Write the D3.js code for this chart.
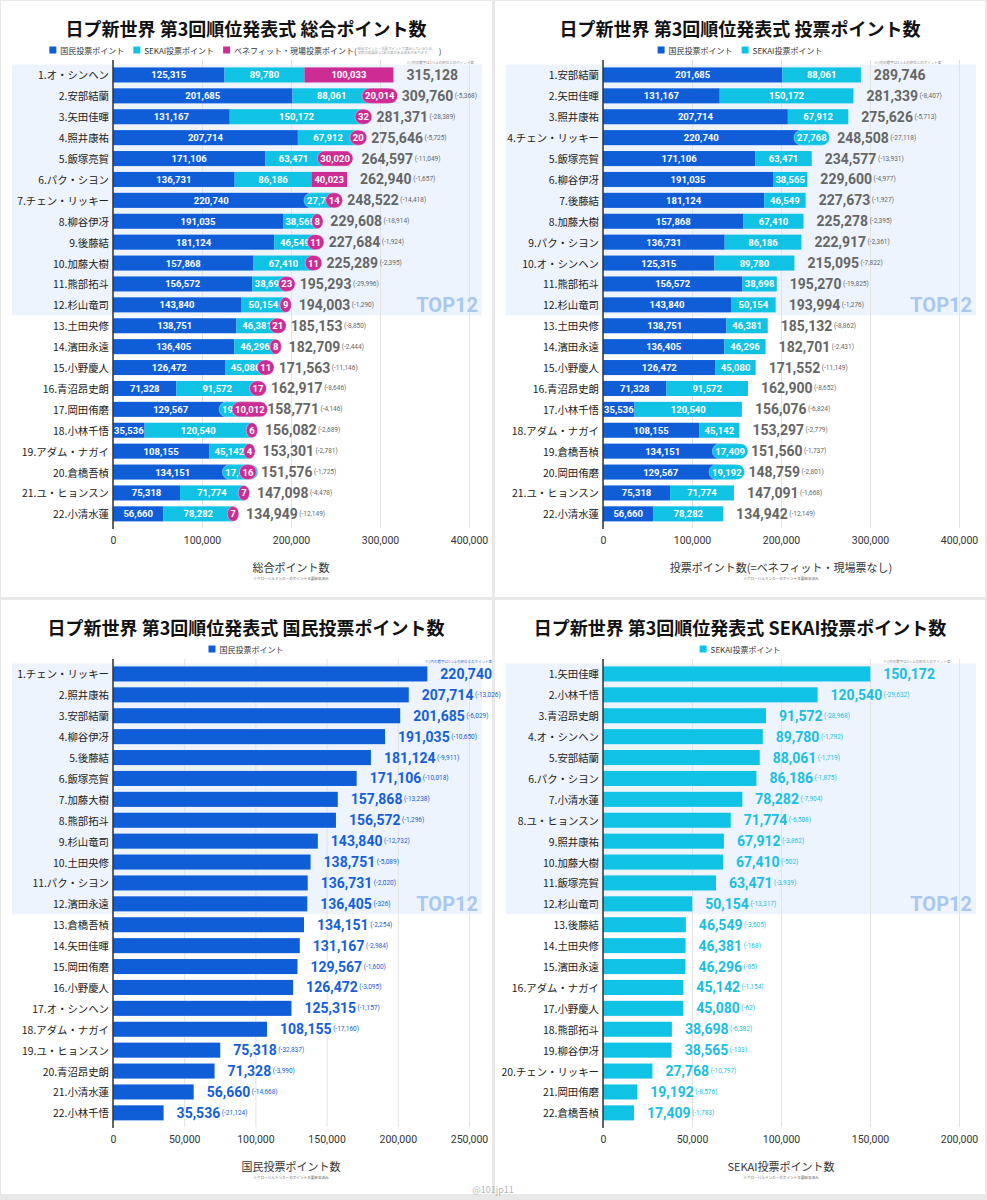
<!DOCTYPE html>
<meta charset="utf-8">
<style>

body {
  margin: 0;
  background: #e8e8e8;
}

svg {
  display: block;
}

text {
  font-family: "Noto Sans CJK JP", sans-serif;
}

.num text, text.num {
  font-family: Roboto, "Noto Sans CJK JP", sans-serif;
}

</style>
<svg></svg>
<script src="https://cdn.jsdelivr.net/npm/d3@7"></script>
<script>

// members in order of the overall ranking
var members = ["オ・シンヘン", "安部結蘭", "矢田佳暉", "照井康祐", "飯塚亮賀", "パク・シヨン",
  "チェン・リッキー", "柳谷伊冴", "後藤結", "加藤大樹", "熊部拓斗", "杉山竜司", "土田央修",
  "濱田永遠", "小野慶人", "青沼昂史朗", "岡田侑磨", "小林千悟", "アダム・ナガイ", "倉橋吾楨",
  "ユ・ヒョンスン", "小清水蓮"];

var nationalPoints = [125315, 201685, 131167, 207714, 171106, 136731, 220740, 191035, 181124, 157868,
  156572, 143840, 138751, 136405, 126472, 71328, 129567, 35536, 108155, 134151, 75318, 56660];

var sekaiPoints = [89780, 88061, 150172, 67912, 63471, 86186, 27768, 38565, 46549, 67410,
  38698, 50154, 46381, 46296, 45080, 91572, 19192, 120540, 45142, 17409, 71774, 78282];

var benefitPoints = [100033, 20014, 32, 20, 30020, 40023, 14, 8, 11, 11,
  23, 9, 21, 8, 11, 17, 10012, 6, 4, 16, 7, 7];

// totals as printed on the chart
var totalPoints = [315128, 309760, 281371, 275646, 264597, 262940, 248522, 229608, 227684, 225289,
  195293, 194003, 185153, 182709, 171563, 162917, 158771, 156082, 153301, 151576, 147098, 134949];

var votePoints = [215095, 289746, 281339, 275626, 234577, 222917, 248508, 229600, 227673, 225278,
  195270, 193994, 185132, 182701, 171552, 162900, 148759, 156076, 153297, 151560, 147091, 134942];

var width = 987,
    height = 1200;

var colors = {national: "#0f5ed8", sekai: "#10c3e4", benefit: "#cd2c95"};
var legendNames = {national: "国民投票ポイント", sekai: "SEKAI投票ポイント", benefit: "ベネフィット・現場投票ポイント("};

var fmt = d3.format(",");

var rows = members.map(function(name, i) {
  return {
    name: name,
    national: nationalPoints[i],
    sekai: sekaiPoints[i],
    benefit: benefitPoints[i],
    total: totalPoints[i],
    vote: votePoints[i]
  };
});

var panels = [
  {title: "日プ新世界 第3回順位発表式 総合ポイント数", keys: ["national", "sekai", "benefit"], value: "total",
   max: 400000, step: 100000, left: 0, top: 0, zero: 113, axisTitle: "総合ポイント数", labelColor: "#666", segLabels: true},
  {title: "日プ新世界 第3回順位発表式 投票ポイント数", keys: ["national", "sekai"], value: "vote",
   max: 400000, step: 100000, left: 494, top: 0, zero: 603, axisTitle: "投票ポイント数(=ベネフィット・現場票なし)", labelColor: "#666", segLabels: true},
  {title: "日プ新世界 第3回順位発表式 国民投票ポイント数", keys: ["national"], value: "national",
   max: 250000, step: 50000, left: 0, top: 599, zero: 113, axisTitle: "国民投票ポイント数", labelColor: "#1560d8", noteEnd: true},
  {title: "日プ新世界 第3回順位発表式 SEKAI投票ポイント数", keys: ["sekai"], value: "sekai",
   max: 200000, step: 50000, left: 494, top: 599, zero: 603, axisTitle: "SEKAI投票ポイント数", labelColor: "#19bfe0"}
];

var svg = d3.select("svg")
    .attr("width", width)
    .attr("height", height);

svg.append("rect").attr("x", 1).attr("y", 1).attr("width", 491).attr("height", 596).attr("fill", "#fff");
svg.append("rect").attr("x", 495).attr("y", 1).attr("width", 490).attr("height", 596).attr("fill", "#fff");
svg.append("rect").attr("x", 1).attr("y", 600).attr("width", 491).attr("height", 594).attr("fill", "#fff");
svg.append("rect").attr("x", 495).attr("y", 600).attr("width", 490).attr("height", 594).attr("fill", "#fff");

panels.forEach(drawPanel);

svg.append("text")
    .attr("x", 493)
    .attr("y", 1189)
    .attr("text-anchor", "middle")
    .attr("dominant-baseline", "central")
    .attr("font-size", 9)
    .attr("fill", "#b5b5b5")
    .text("@101jp11");

function drawPanel(p) {
  var g = svg.append("g").attr("transform", "translate(0," + p.top + ")");
  var cx = p.left + 246;

  var data = rows.slice().sort(function(a, b) { return b[p.value] - a[p.value]; });

  var x = d3.scaleLinear()
      .domain([0, p.max])
      .range([p.zero, p.zero + 356]);

  var y = d3.scaleBand()
      .domain(d3.range(data.length))
      .range([64.5, 524.3])
      .paddingInner(0.28)
      .paddingOuter(0.14);

  var bh = y.bandwidth();

  // title
  g.append("text")
      .attr("x", cx)
      .attr("y", 28)
      .attr("text-anchor", "middle")
      .attr("dominant-baseline", "central")
      .attr("font-size", 18)
      .attr("font-weight", 700)
      .attr("fill", "#111")
      .text(p.title);

  // legend
  var legend = g.append("g");
  var lx = 0;
  p.keys.forEach(function(key) {
    var item = legend.append("g").attr("transform", "translate(" + lx + ",0)");
    item.append("rect").attr("x", 0).attr("y", 46.5).attr("width", 7).attr("height", 7).attr("fill", colors[key]);
    var t = item.append("text")
        .attr("x", 11)
        .attr("y", 50)
        .attr("dominant-baseline", "central")
        .attr("font-size", 8)
        .attr("fill", "#333")
        .text(legendNames[key]);
    var w = 11 + t.node().getComputedTextLength();
    if (key === "benefit") {
      item.append("text").attr("x", w + 1).attr("y", 48.2).attr("font-size", 3.4).attr("fill", "#999")
          .attr("dominant-baseline", "central").text("総合ポイント・投票ポイントで算出しているため、");
      item.append("text").attr("x", w + 1).attr("y", 52.2).attr("font-size", 3.4).attr("fill", "#999")
          .attr("dominant-baseline", "central").text("実際の現場票と1票の差がある場合があります。");
      item.append("text").attr("x", w + 82).attr("y", 50).attr("font-size", 8).attr("fill", "#333")
          .attr("dominant-baseline", "central").text(")");
      w += 86;
    }
    lx += w + 9;
  });
  legend.attr("transform", "translate(" + (cx - (lx - 9) / 2) + ",0)");

  // TOP12 band
  g.append("rect")
      .attr("x", p.left + 12)
      .attr("y", y.range()[0])
      .attr("width", 470)
      .attr("height", y.step() * 12)
      .attr("fill", "#edf4fd");

  // axis with gridlines
  var axis = g.append("g")
      .attr("class", "num")
      .attr("transform", "translate(0,528)")
      .call(d3.axisBottom(x)
          .tickValues(d3.range(0, p.max + 1, p.step))
          .tickSize(-468)
          .tickPadding(9)
          .tickFormat(fmt));
  axis.select(".domain").remove();
  axis.selectAll(".tick line").attr("stroke", "#e3e3e3");
  axis.selectAll(".tick text").attr("font-size", 10.5).attr("fill", "#333");

  g.append("text")
      .attr("x", p.left + 478)
      .attr("y", y(11) + bh / 2)
      .attr("class", "num")
      .attr("text-anchor", "end")
      .attr("dominant-baseline", "central")
      .attr("font-size", 20)
      .attr("font-weight", 700)
      .attr("fill", "#a9c7f0")
      .text("TOP12");

  // bars
  var series = d3.stack().keys(p.keys)(data);

  g.append("g").selectAll("g")
    .data(series)
    .enter().append("g")
      .attr("fill", function(s) { return colors[s.key]; })
    .selectAll("rect")
    .data(function(s) { return s; })
    .enter().append("rect")
      .attr("x", function(d) { return x(d[0]); })
      .attr("y", function(d, i) { return y(i); })
      .attr("width", function(d) { return x(d[1]) - x(d[0]); })
      .attr("height", bh);

  // zero line
  g.append("line")
      .attr("x1", p.zero).attr("x2", p.zero)
      .attr("y1", 60).attr("y2", 529)
      .attr("stroke", "#333")
      .attr("stroke-width", 1.5);

  // member names
  g.append("g").selectAll("text")
    .data(data)
    .enter().append("text")
      .attr("x", p.zero - 4)
      .attr("y", function(d, i) { return y(i) + bh / 2; })
      .attr("text-anchor", "end")
      .attr("dominant-baseline", "central")
      .attr("font-size", 10.4)
      .attr("fill", "#222")
      .text(function(d, i) { return (i + 1) + "." + d.name; });

  // segment labels
  if (p.segLabels) {
    var labels = g.append("g").attr("class", "num");
    series.forEach(function(s, si) {
      s.forEach(function(d, i) {
        var x0 = x(d[0]), x1 = x(d[1]), mx = (x0 + x1) / 2;
        var lg = labels.append("g");
        var t = lg.append("text")
            .attr("x", mx)
            .attr("y", y(i) + bh / 2)
            .attr("text-anchor", "middle")
            .attr("dominant-baseline", "central")
            .attr("font-size", 9.5)
            .attr("font-weight", 700)
            .attr("fill", "#fff")
            .text(fmt(d.data[s.key]));
        var tw = t.node().getComputedTextLength();
        if (si > 0 && tw + 4 > x1 - x0) {
          lg.insert("rect", "text")
              .attr("x", mx - tw / 2 - 3)
              .attr("y", y(i))
              .attr("width", tw + 6)
              .attr("height", bh)
              .attr("rx", bh / 2)
              .attr("fill", colors[s.key])
              .attr("stroke", "#fff")
              .attr("stroke-opacity", 0.6)
              .attr("stroke-width", 0.6);
        }
      });
    });
  }

  // value labels with differences
  var last = series[series.length - 1];
  var vals = g.append("g").attr("class", "num");
  data.forEach(function(d, i) {
    var v = d[p.value];
    var lx0 = x(last[i][1]) + 13;
    var t = vals.append("text")
        .attr("x", lx0)
        .attr("y", y(i) + bh / 2)
        .attr("dominant-baseline", "central")
        .attr("fill", p.labelColor);
    t.append("tspan")
        .attr("font-size", 14)
        .attr("font-weight", 700)
        .text(fmt(v));
    if (i > 0) {
      t.append("tspan")
          .attr("dx", 1.5)
          .attr("font-size", 6.5)
          .text("(-" + fmt(data[i - 1][p.value] - v) + ")");
    }
    if (i === 0) {
      var lw = t.node().getComputedTextLength();
      g.append("text")
          .attr("x", p.noteEnd ? lx0 + lw : lx0)
          .attr("y", y(i) - 3)
          .attr("text-anchor", p.noteEnd ? "end" : "start")
          .attr("font-size", 3.5)
          .attr("fill", p.noteEnd ? p.labelColor : "#888")
          .text("※()内の数字は1つ上の順位とのポイント差");
    }
  });

  // axis titles
  g.append("text")
      .attr("x", (p.zero + p.zero + 356) / 2)
      .attr("y", 567)
      .attr("text-anchor", "middle")
      .attr("dominant-baseline", "central")
      .attr("font-size", 11)
      .attr("fill", "#333")
      .text(p.axisTitle);

  g.append("text")
      .attr("x", (p.zero + p.zero + 356) / 2)
      .attr("y", 578)
      .attr("text-anchor", "middle")
      .attr("dominant-baseline", "central")
      .attr("font-size", 3.6)
      .attr("fill", "#666")
      .text("※グローバルランカーのポイント主要結果済み");
}

</script>
